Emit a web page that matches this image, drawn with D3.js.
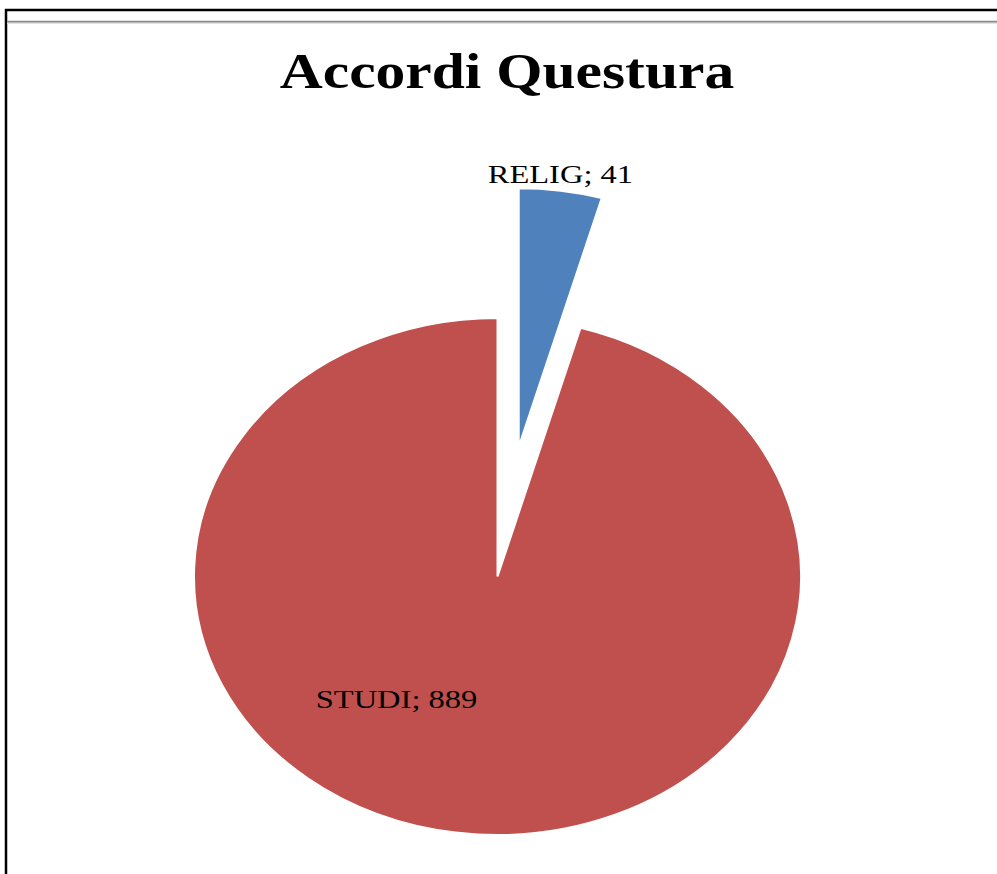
<!DOCTYPE html>
<html lang="en">
<head>
    <meta charset="utf-8">
    <title>Accordi Questura</title>
    <script type="text/javascript" src="https://cdn.jsdelivr.net/npm/d3@7"></script>
    <style type="text/css">
        body { margin: 0; background: #fff; }
        svg { display: block; }
    </style>
</head>
<body>
    <script type="text/javascript">

    // chart data
    var categories = ["RELIG", "STUDI"];
    var values = [41, 889];
    var colors = ["#4F81BD", "#C0504D"];
    var title = "Accordi Questura";

    var w = 997, h = 874;
    var cx = 497.5, cy = 576.5;
    var ry = 258.5, rx = 303.5;   // pie drawn as a flattened ellipse
    var explode = [131, 0];
    var textStretch = 1.19;       // source text looks horizontally stretched
    var labelStretch = 1.25;

    var svg = d3.select("body")
        .append("svg")
        .attr("width", w)
        .attr("height", h);

    // frame lines
    svg.append("line")
        .attr("x1", 5).attr("x2", w).attr("y1", 10).attr("y2", 10)
        .attr("stroke", "#000").attr("stroke-width", 2.5);
    svg.append("line")
        .attr("x1", 6).attr("x2", 6).attr("y1", 9).attr("y2", h)
        .attr("stroke", "#000").attr("stroke-width", 2.5);
    svg.append("line")
        .attr("x1", 7).attr("x2", w).attr("y1", 21.7).attr("y2", 21.7)
        .attr("stroke", "#8c8c8c").attr("stroke-width", 2);
    svg.append("line")
        .attr("x1", 7).attr("x2", w).attr("y1", 23.4).attr("y2", 23.4)
        .attr("stroke", "#e4e4e4").attr("stroke-width", 1.2);

    svg.append("text")
        .attr("transform", "translate(507,88) scale(" + textStretch + ",1)")
        .attr("text-anchor", "middle")
        .attr("font-family", "'Liberation Serif', 'Times New Roman', serif")
        .attr("font-weight", "bold")
        .attr("font-size", 50)
        .text(title);

    var pie = d3.pie().sort(null).value(function(d){ return d; });
    var arcs = pie(values);
    var arc = d3.arc().innerRadius(0).outerRadius(ry);
    var sx = rx / ry;

    var g = svg.append("g")
        .attr("transform", "translate(" + cx + "," + cy + ") scale(" + sx + ",1)");

    var mid = function(d){ return (d.startAngle + d.endAngle) / 2; };

    g.selectAll("path")
        .data(arcs)
        .enter()
        .append("path")
        .attr("transform", function(d, i){
            var a = mid(d);
            return "translate(" + (Math.sin(a) * explode[i]) + "," + (-Math.cos(a) * explode[i]) + ")";
        })
        .attr("d", arc)
        .attr("fill", function(d, i){ return colors[i]; })
        .attr("stroke", "#fff")
        .attr("stroke-width", 2)
        .attr("vector-effect", "non-scaling-stroke");

    // label placement: radius in circle space and angle (deg) for each slice
    var labelR = [ry + 17, 150];
    var labelA = [null, 215];

    svg.selectAll("text.lbl")
        .data(arcs)
        .enter()
        .append("text")
        .attr("class", "lbl")
        .attr("transform", function(d, i){
            var a = labelA[i] == null ? mid(d) : labelA[i] * Math.PI / 180;
            var x = cx + Math.sin(a) * (labelR[i] + explode[i]) * sx - (i == 0 ? 3 : 0);
            var y = cy - Math.cos(a) * (labelR[i] + explode[i]) + 9;
            return "translate(" + x + "," + y + ") scale(" + labelStretch + ",1)";
        })
        .attr("text-anchor", "middle")
        .attr("font-family", "'Liberation Serif', 'Times New Roman', serif")
        .attr("font-size", 26)
        .attr("fill", "#000")
        .text(function(d, i){ return categories[i] + "; " + values[i]; });

    </script>
</body>
</html>
